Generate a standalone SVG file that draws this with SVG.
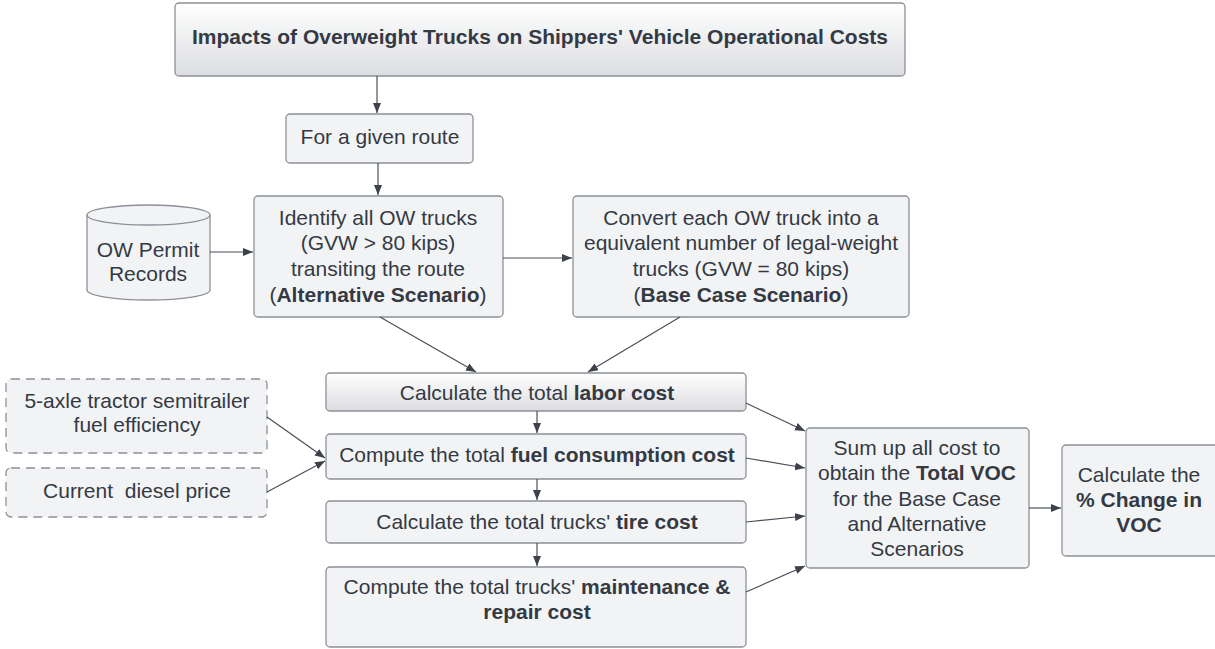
<svg xmlns="http://www.w3.org/2000/svg" width="1215" height="649" viewBox="0 0 1215 649">
<style>
.box{fill:#f2f3f5;stroke:#8c9097;stroke-width:1.3}
.grad{fill:url(#g);stroke:#8c9097;stroke-width:1.3}
.dash{fill:#f2f3f5;stroke:#8c9097;stroke-width:1.3;stroke-dasharray:9 6}
text{font-family:"Liberation Sans",Arial,sans-serif;font-size:21px;fill:#343a43;text-anchor:middle}
.b{font-weight:bold}
.conn line,.conn path{stroke:#4a4f57;stroke-width:1.2;fill:none;marker-end:url(#ah)}
</style>
<defs>
<linearGradient id="g" x1="0" y1="0" x2="0" y2="1">
<stop offset="0" stop-color="#ffffff"/>
<stop offset="1" stop-color="#dcdde0"/>
</linearGradient>
<marker id="ah" viewBox="0 0 10 10" refX="10" refY="5" markerWidth="10" markerHeight="10" markerUnits="userSpaceOnUse" orient="auto">
<path d="M0,1 L10,5 L0,9 Z" fill="#3d424a"/>
</marker>
</defs>
<rect width="1215" height="649" fill="#ffffff"/>

<g id="title">
<rect class="grad" x="175" y="3" width="730" height="73" rx="4"/>
<text class="b" x="540" y="44" style="font-size:21px" textLength="696" lengthAdjust="spacingAndGlyphs">Impacts of Overweight Trucks on Shippers' Vehicle Operational Costs</text>
</g>
<g id="route">
<rect class="box" x="286" y="114" width="187" height="49" rx="4"/>
<text x="380" y="144">For a given route</text>
</g>
<g id="permit">
<path class="box" d="M87,215 A61.5,10 0 0 1 210,215 L210,290 A61.5,10 0 0 1 87,290 Z"/>
<path d="M87,215 A61.5,10 0 0 0 210,215" fill="none" stroke="#8c9097" stroke-width="1.3"/>
<text x="148" y="257">OW Permit</text>
<text x="148" y="281">Records</text>
</g>
<g id="identify">
<rect class="box" x="254" y="196" width="249" height="121" rx="4"/>
<text x="378" y="225">Identify all OW trucks</text>
<text x="378" y="250">(GVW &gt; 80 kips)</text>
<text x="378" y="276">transiting the route</text>
<text x="378" y="302">(<tspan class="b">Alternative Scenario</tspan>)</text>
</g>
<g id="convert">
<rect class="box" x="573" y="196" width="336" height="121" rx="4"/>
<text x="741" y="225">Convert each OW truck into a</text>
<text x="741" y="250">equivalent number of legal-weight</text>
<text x="741" y="276">trucks (GVW = 80 kips)</text>
<text x="741" y="302">(<tspan class="b">Base Case Scenario</tspan>)</text>
</g>
<g id="fuel-eff">
<rect class="dash" x="6" y="379" width="261" height="74" rx="5"/>
<text x="137" y="408">5-axle tractor semitrailer</text>
<text x="137" y="432">fuel efficiency</text>
</g>
<g id="diesel">
<rect class="dash" x="6" y="468" width="261" height="49" rx="5"/>
<text x="137" y="498">Current&#160; diesel price</text>
</g>
<g id="labor">
<rect class="grad" x="326" y="373" width="420" height="38" rx="4"/>
<text x="537" y="400">Calculate the total <tspan class="b">labor cost</tspan></text>
</g>
<g id="fuel">
<rect class="box" x="326" y="434" width="420" height="45" rx="4"/>
<text x="537" y="462">Compute the total <tspan class="b">fuel consumption cost</tspan></text>
</g>
<g id="tire">
<rect class="box" x="326" y="501" width="420" height="42" rx="4"/>
<text x="537" y="529">Calculate the total trucks' <tspan class="b">tire cost</tspan></text>
</g>
<g id="maint">
<rect class="box" x="326" y="567" width="420" height="80" rx="4"/>
<text x="537" y="594">Compute the total trucks' <tspan class="b">maintenance &amp;</tspan></text>
<text x="537" y="619" class="b">repair cost</text>
</g>
<g id="sum">
<rect class="box" x="806" y="428" width="223" height="140" rx="4"/>
<text x="917" y="455">Sum up all cost to</text>
<text x="917" y="480">obtain the <tspan class="b">Total VOC</tspan></text>
<text x="917" y="506">for the Base Case</text>
<text x="917" y="531">and Alternative</text>
<text x="917" y="556">Scenarios</text>
</g>
<g id="pct">
<rect class="box" x="1062" y="445" width="160" height="111" rx="4"/>
<text x="1139" y="482">Calculate the</text>
<text x="1139" y="507" class="b">% Change in</text>
<text x="1139" y="532" class="b">VOC</text>
</g>

<g class="conn" id="connectors">
<line x1="377" y1="76" x2="377" y2="113"/>
<line x1="378" y1="163" x2="378" y2="195"/>
<line x1="210" y1="252" x2="253" y2="252"/>
<line x1="503" y1="258" x2="572" y2="258"/>
<line x1="380" y1="317" x2="476" y2="372"/>
<line x1="680" y1="317" x2="588" y2="372"/>
<line x1="537" y1="411" x2="537" y2="433"/>
<line x1="537" y1="479" x2="537" y2="500"/>
<line x1="537" y1="543" x2="537" y2="566"/>
<line x1="267" y1="417" x2="325" y2="458"/>
<line x1="267" y1="492" x2="325" y2="461"/>
<line x1="746" y1="403" x2="805" y2="431"/>
<line x1="746" y1="458" x2="805" y2="468"/>
<line x1="746" y1="522" x2="805" y2="516"/>
<line x1="746" y1="592" x2="805" y2="566"/>
<line x1="1029" y1="508" x2="1061" y2="508"/>
</g>
</svg>
